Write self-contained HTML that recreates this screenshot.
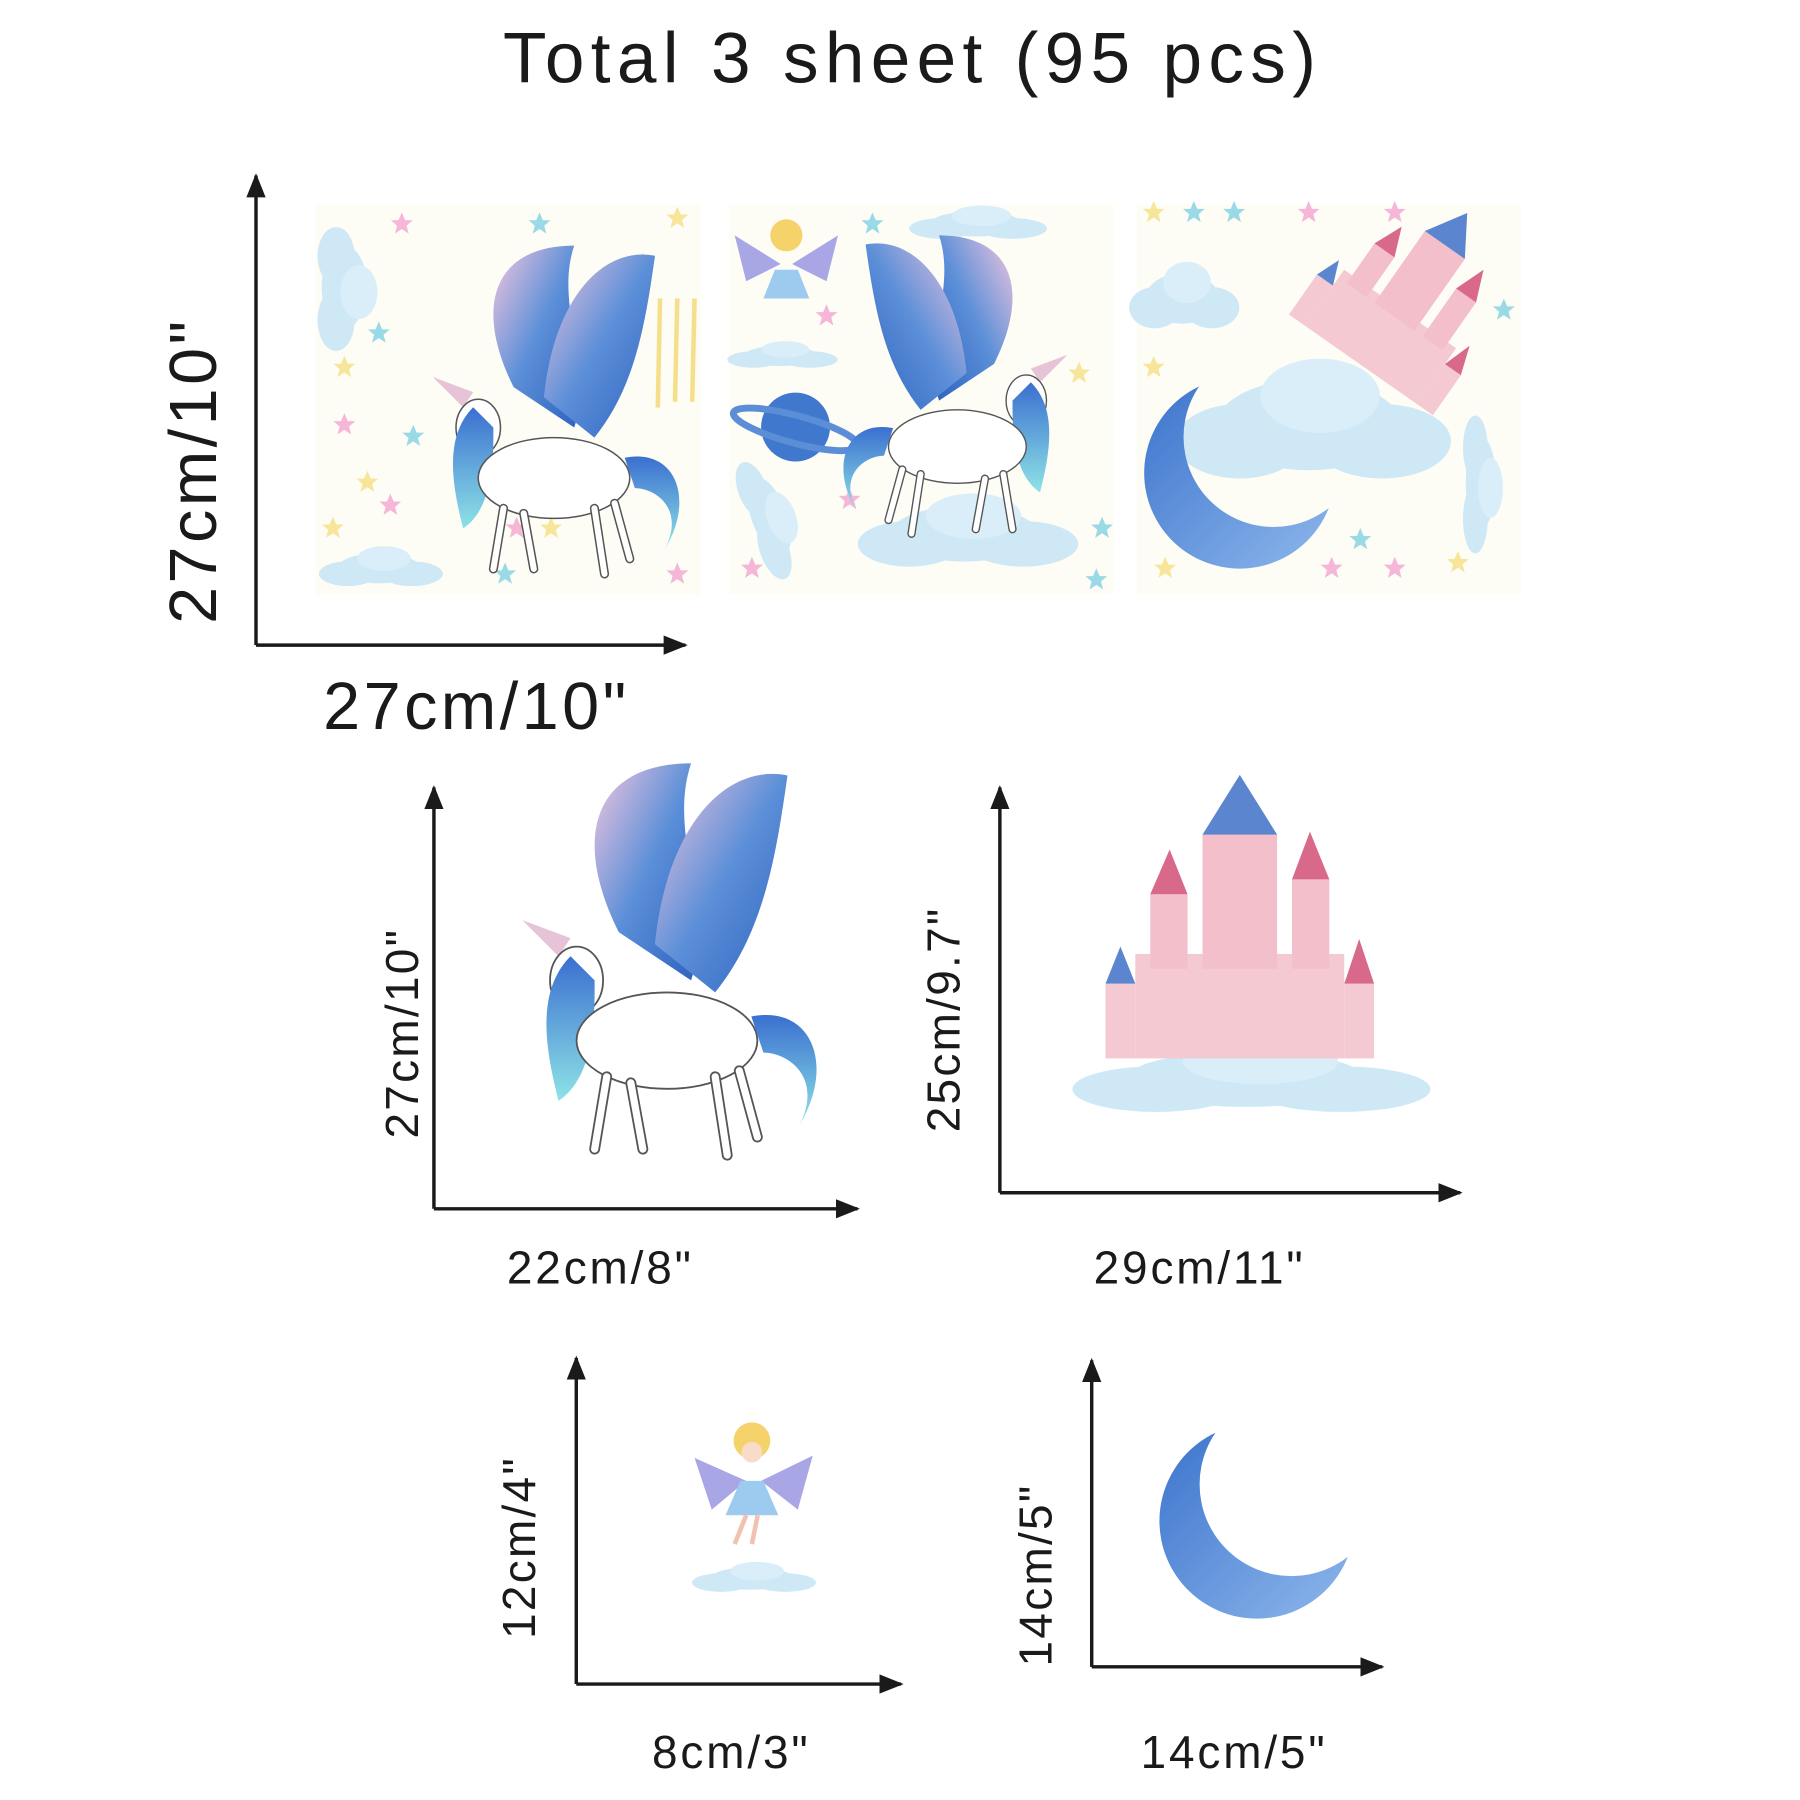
<!DOCTYPE html>
<html><head><meta charset="utf-8"><style>
html,body{margin:0;padding:0;background:#fff;}
svg{display:block;}
text{font-family:"Liberation Sans",Arial,sans-serif;fill:#1a1a1a;}
</style></head><body>
<svg width="1800" height="1800" viewBox="0 0 1568 1568" xmlns="http://www.w3.org/2000/svg">
<defs>
<marker id="ar" viewBox="0 0 10 10" refX="9" refY="5" markerWidth="7" markerHeight="7" orient="auto-start-reverse"><path d="M0,1 L10,5 L0,9 z" fill="#1a1a1a"/></marker>
<linearGradient id="wing" x1="0" y1="0" x2="1" y2="1"><stop offset="0" stop-color="#f3c6df"/><stop offset="0.5" stop-color="#5b8fd8"/><stop offset="1" stop-color="#2e62c0"/></linearGradient>
<linearGradient id="mane" x1="0" y1="0" x2="0" y2="1"><stop offset="0" stop-color="#3a6fd0"/><stop offset="1" stop-color="#8ee3e6"/></linearGradient>
<linearGradient id="moon" x1="0" y1="0" x2="1" y2="1"><stop offset="0" stop-color="#3a72cc"/><stop offset="1" stop-color="#8fb8ec"/></linearGradient>
<mask id="moonMask" maskUnits="userSpaceOnUse" x="-100" y="-100" width="200" height="200"><rect x="-100" y="-100" width="200" height="200" fill="#fff"/><circle cx="30" cy="-32" r="80" fill="#000"/></mask>
<g id="cloud"><ellipse cx="0" cy="0" rx="40" ry="22" fill="#cfe8f6"/><ellipse cx="-30" cy="8" rx="28" ry="18" fill="#cfe8f6"/><ellipse cx="32" cy="8" rx="30" ry="18" fill="#cfe8f6"/><ellipse cx="5" cy="-14" rx="26" ry="18" fill="#d9eef8"/></g>
<polygon id="star" points="0,-10 2.9,-3.1 9.5,-3.1 4.1,1.6 6,8.5 0,4.5 -6,8.5 -4.1,1.6 -9.5,-3.1 -2.9,-3.1"/>
<g id="moonShape"><circle cx="0" cy="0" r="85" fill="url(#moon)" mask="url(#moonMask)"/></g>
<g id="unicorn">
 <path d="M-20,-60 C-60,-140 -40,-200 40,-200 C20,-140 60,-80 40,-20 z" fill="url(#wing)"/>
 <path d="M10,-50 C20,-150 70,-200 120,-190 C110,-120 100,-60 60,-10 z" fill="url(#wing)"/>
 <path d="M-70,-40 L-100,-70 L-60,-55 z" fill="#e7c3d8"/>
 <ellipse cx="-55" cy="-20" rx="22" ry="28" fill="#fff" stroke="#555" stroke-width="1.5"/>
 <path d="M-60,-40 C-90,-10 -80,40 -70,80 C-40,60 -40,10 -40,-20 z" fill="url(#mane)"/>
 <ellipse cx="20" cy="30" rx="75" ry="40" fill="#fff" stroke="#555" stroke-width="1.5"/>
 <path d="M-30,60 L-40,120 M-10,65 L0,120 M60,60 L70,125 M80,55 L95,110" stroke="#555" stroke-width="9" stroke-linecap="round"/>
 <path d="M-30,60 L-40,120 M-10,65 L0,120 M60,60 L70,125 M80,55 L95,110" stroke="#fff" stroke-width="6" stroke-linecap="round"/>
 <path d="M90,10 C140,0 160,50 130,100 C150,60 120,40 100,40 z" fill="url(#mane)"/>
</g>
<g id="castle">
 <rect x="-70" y="-30" width="140" height="70" fill="#f5c9d2"/>
 <rect x="-25" y="-110" width="50" height="90" fill="#f3bfcb"/>
 <rect x="-60" y="-70" width="25" height="50" fill="#f3bfcb"/><rect x="35" y="-80" width="25" height="60" fill="#f3bfcb"/>
 <polygon points="-25,-110 0,-150 25,-110" fill="#5b86cf"/><polygon points="-60,-70 -47,-100 -35,-70" fill="#d8698a"/><polygon points="35,-80 47,-112 60,-80" fill="#d8698a"/>
 <polygon points="-90,-10 -80,-35 -70,-10" fill="#5b86cf"/><polygon points="70,-10 80,-40 90,-10" fill="#d8698a"/>
 <rect x="-90" y="-10" width="20" height="50" fill="#f5c9d2"/><rect x="70" y="-10" width="20" height="50" fill="#f5c9d2"/>
</g>
</defs>

<text x="795" y="72" font-size="62" letter-spacing="5.5" text-anchor="middle">Total 3 sheet (95 pcs)</text>

<!-- sheets -->
<g>
 <rect x="275" y="178" width="335" height="340" fill="#fdfdf6"/>
 <use href="#cloud" transform="translate(300,250) rotate(90) scale(0.9)"/>
 <use href="#cloud" transform="translate(330,495) scale(0.9,0.6)"/>
 <g fill="#f7e59a"><use href="#star" x="300" y="320"/><use href="#star" x="320" y="420"/><use href="#star" x="590" y="190"/><use href="#star" x="560" y="230"/><use href="#star" x="290" y="460"/><use href="#star" x="480" y="460"/></g>
 <g fill="#f5b6d8"><use href="#star" x="350" y="195"/><use href="#star" x="300" y="370"/><use href="#star" x="340" y="440"/><use href="#star" x="590" y="500"/><use href="#star" x="450" y="460"/></g>
 <g fill="#9ad9e6"><use href="#star" x="470" y="195"/><use href="#star" x="330" y="290"/><use href="#star" x="360" y="380"/><use href="#star" x="440" y="500"/></g>
 <g stroke="#f6df8a" stroke-width="4"><line x1="575" y1="260" x2="573" y2="355"/><line x1="590" y1="260" x2="588" y2="350"/><line x1="605" y1="260" x2="603" y2="350"/></g>
 <use href="#unicorn" transform="translate(465,390) scale(0.88)"/>
</g>
<g>
 <rect x="635" y="178" width="335" height="340" fill="#fdfdf6"/>
 <use href="#cloud" transform="translate(850,195) scale(1,0.5)"/>
 <use href="#cloud" transform="translate(680,310) scale(0.8,0.4)"/>
 <use href="#cloud" transform="translate(840,465) scale(1.6,1.1)"/>
 <use href="#cloud" transform="translate(670,450) rotate(70) scale(0.9,0.7)"/>
 <circle cx="693" cy="372" r="30" fill="#3f78cc"/><ellipse cx="693" cy="374" rx="56" ry="12" fill="none" stroke="#5b8ed6" stroke-width="6" transform="rotate(15 693 374)"/>
 <circle cx="685" cy="205" r="14" fill="#f5d26a"/><path d="M640,205 L680,230 L650,245 z M730,205 L690,230 L720,245 z" fill="#a9a6e6"/><path d="M675,235 L695,235 L705,260 L665,260 z" fill="#9ccbef"/>
 <g fill="#f5b6d8"><use href="#star" x="720" y="275"/><use href="#star" x="740" y="435"/><use href="#star" x="655" y="495"/></g>
 <g fill="#9ad9e6"><use href="#star" x="760" y="195"/><use href="#star" x="955" y="505"/><use href="#star" x="960" y="460"/></g>
 <g fill="#f7e59a"><use href="#star" x="940" y="325"/><use href="#star" x="810" y="395"/></g>
 <use href="#unicorn" transform="translate(850,365) scale(-0.8,0.8)"/>
</g>
<g>
 <rect x="990" y="178" width="335" height="340" fill="#fdfdf6"/>
 <use href="#cloud" transform="translate(1140,370) scale(2,1.8)"/>
 <use href="#cloud" transform="translate(1290,420) rotate(90) scale(1,0.6)"/>
 <use href="#cloud" transform="translate(1030,260) scale(0.8,1)"/>
 <use href="#castle" transform="translate(1205,290) rotate(35) scale(0.85)"/>
 <use href="#moonShape" transform="translate(1080,412) scale(0.98)"/>
 <g fill="#f5b6d8"><use href="#star" x="1140" y="185"/><use href="#star" x="1215" y="185"/><use href="#star" x="1215" y="495"/><use href="#star" x="1160" y="495"/></g>
 <g fill="#9ad9e6"><use href="#star" x="1040" y="185"/><use href="#star" x="1075" y="185"/><use href="#star" x="1185" y="470"/><use href="#star" x="1310" y="270"/></g>
 <g fill="#f7e59a"><use href="#star" x="1005" y="185"/><use href="#star" x="1005" y="320"/><use href="#star" x="1270" y="490"/><use href="#star" x="1015" y="495"/></g>
</g>

<!-- axes set 1 -->
<g stroke="#1a1a1a" stroke-width="3" fill="none">
 <path d="M223,562 L223,153" marker-end="url(#ar)"/><path d="M223,562 L597,562" marker-end="url(#ar)"/>
</g>
<text font-size="58" letter-spacing="3" text-anchor="middle" transform="translate(188,410) rotate(-90)">27cm/10"</text>
<text font-size="58" letter-spacing="3" text-anchor="middle" x="415" y="635">27cm/10"</text>

<!-- set 2 unicorn -->
<use href="#unicorn" transform="translate(560,875) scale(1.05)"/>
<g stroke="#1a1a1a" stroke-width="3" fill="none">
 <path d="M378,1053 L378,686" marker-end="url(#ar)"/><path d="M378,1053 L747,1053" marker-end="url(#ar)"/>
</g>
<text font-size="40" letter-spacing="2" text-anchor="middle" transform="translate(364,900) rotate(-90)">27cm/10"</text>
<text font-size="40" letter-spacing="2.5" text-anchor="middle" x="523" y="1118">22cm/8"</text>

<!-- set 3 castle -->
<g>
 <use href="#cloud" transform="translate(1085,940) scale(2.6,1.1)"/>
 <use href="#castle" transform="translate(1080,870) scale(1.3)"/>
</g>
<g stroke="#1a1a1a" stroke-width="3" fill="none">
 <path d="M871,1039 L871,686" marker-end="url(#ar)"/><path d="M871,1039 L1272,1039" marker-end="url(#ar)"/>
</g>
<text font-size="40" letter-spacing="2" text-anchor="middle" transform="translate(836,888) rotate(-90)">25cm/9.7"</text>
<text font-size="40" letter-spacing="2.5" text-anchor="middle" x="1045" y="1118">29cm/11"</text>

<!-- set 4 fairy -->
<g>
 <use href="#cloud" transform="translate(655,1375) scale(0.9,0.45)"/>
 <path d="M605,1270 L650,1290 L620,1315 z M708,1268 L663,1290 L695,1315 z" fill="#a9a6e6"/>
 <circle cx="655" cy="1255" r="16" fill="#f5d26a"/><circle cx="655" cy="1265" r="9" fill="#f8dcc8"/>
 <path d="M645,1290 L665,1290 L678,1320 L632,1320 z" fill="#9ccbef"/>
 <path d="M650,1320 L640,1345 M660,1320 L655,1345" stroke="#f1c2b0" stroke-width="4"/>
</g>
<g stroke="#1a1a1a" stroke-width="3" fill="none">
 <path d="M502,1467 L502,1183" marker-end="url(#ar)"/><path d="M502,1467 L785,1467" marker-end="url(#ar)"/>
</g>
<text font-size="40" letter-spacing="2" text-anchor="middle" transform="translate(466,1348) rotate(-90)">12cm/4"</text>
<text font-size="40" letter-spacing="2.5" text-anchor="middle" x="637" y="1540">8cm/3"</text>

<!-- set 5 moon -->
<use href="#moonShape" transform="translate(1095,1325)"/>
<g stroke="#1a1a1a" stroke-width="3" fill="none">
 <path d="M951,1452 L951,1185" marker-end="url(#ar)"/><path d="M951,1452 L1204,1452" marker-end="url(#ar)"/>
</g>
<text font-size="40" letter-spacing="2" text-anchor="middle" transform="translate(916,1372) rotate(-90)">14cm/5"</text>
<text font-size="40" letter-spacing="2.5" text-anchor="middle" x="1075" y="1540">14cm/5"</text>
</svg>
</body></html>
